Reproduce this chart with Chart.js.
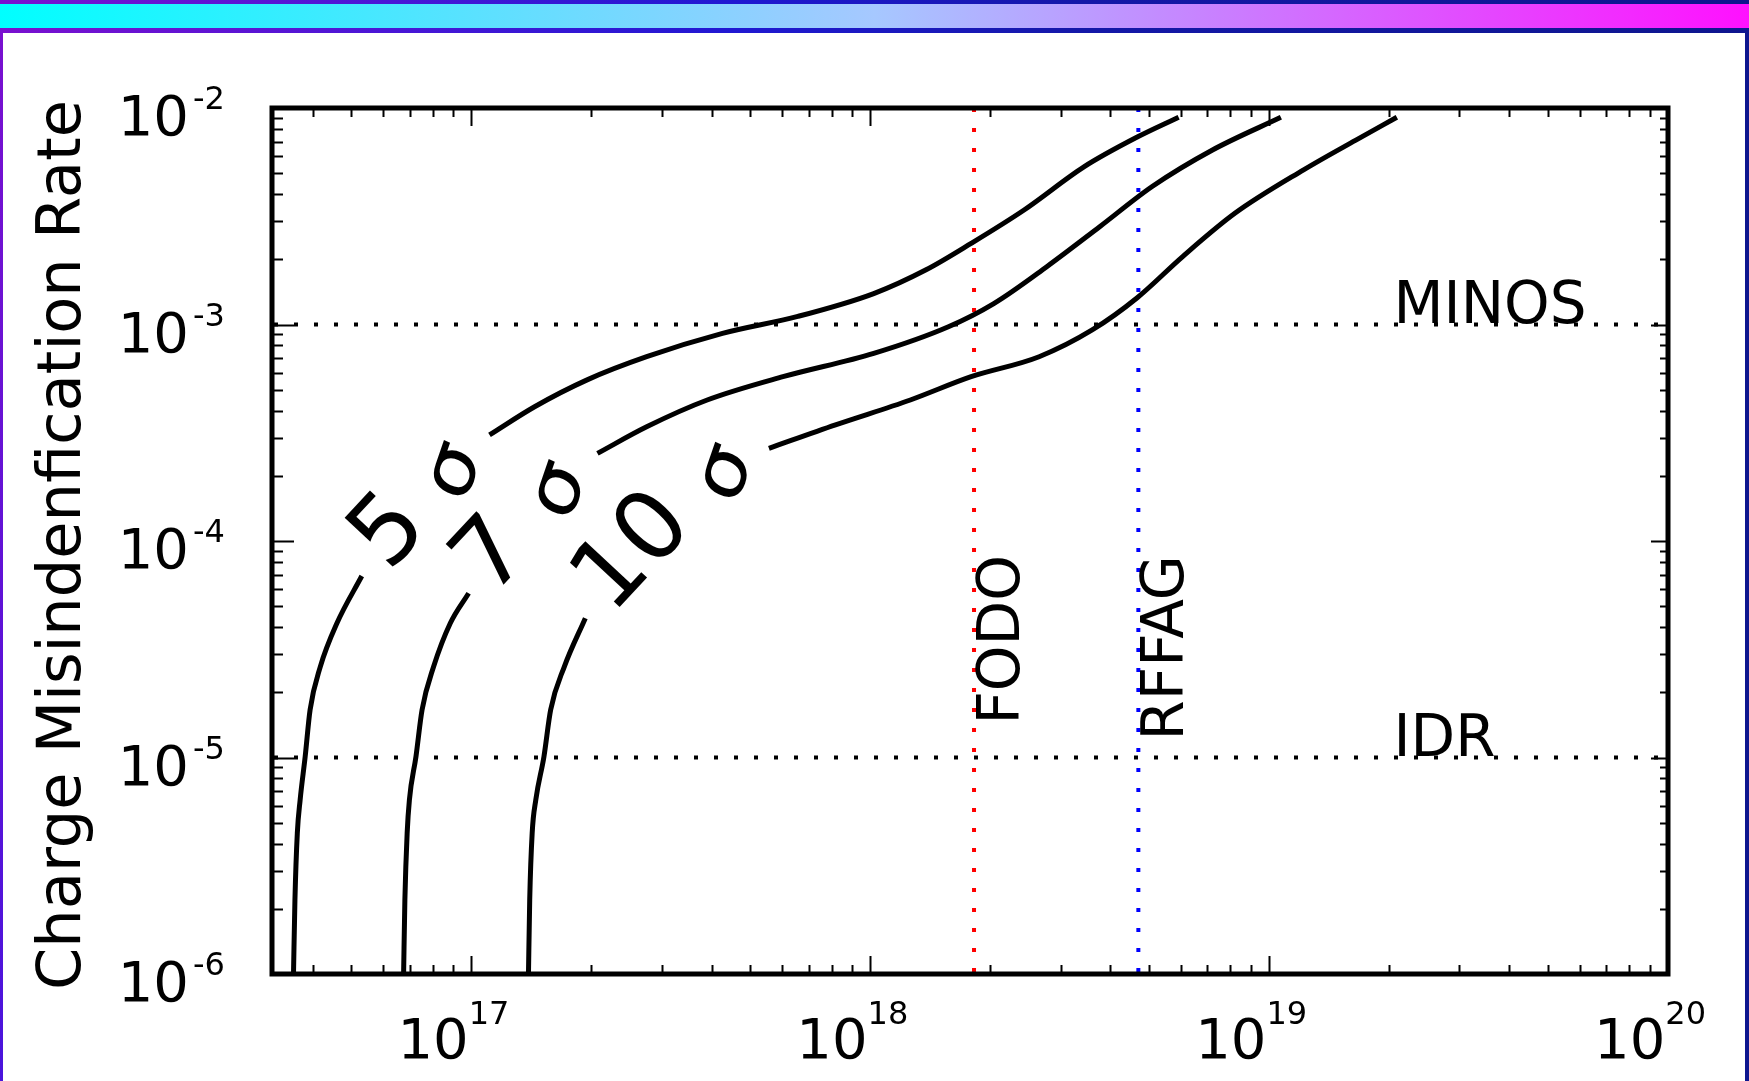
<!DOCTYPE html>
<html>
<head>
<meta charset="utf-8">
<title>Charge Misindenfication Rate</title>
<script src="https://cdn.jsdelivr.net/npm/chart.js@4.4.1/dist/chart.umd.min.js"></script>
<style>
    html, body { margin: 0; padding: 0; }
    body {
        width: 1749px; height: 1081px; overflow: hidden; position: relative;
        background: linear-gradient(to right, #7a10cf 0%, #4a16d6 22%, #2018d2 42%, #1418a8 62%, #0e168e 100%);
    }
    #leftEdge {
        position: absolute; left: 0; top: 0; width: 3px; height: 1081px;
        background: linear-gradient(to bottom, #7a10cf, #4a14dc);
    }
    #topBar {
        position: absolute; left: 0; top: 4px; width: 1749px; height: 24px;
        background: linear-gradient(to right, #00ffff 0%, #a6c8ff 50%, #ff10ff 100%);
    }
    #panel {
        position: absolute; left: 3px; top: 33px; width: 1742px; height: 1048px;
        background: #ffffff;
    }
    #chart { position: absolute; left: 0; top: 0; }
</style>
</head>
<body>
<div id="leftEdge"></div>
<div id="topBar"></div>
<div id="panel"></div>
<canvas id="chart" width="1749" height="1081"></canvas>

<script>
// ====== DATA ======
// axis ranges
const xMin = Math.pow(10, 16.5);
const xMax = 1e20;
const yMin = 1e-6;
const yMax = 1e-2;

// tick label exponents
const xExponents = [17, 18, 19, 20];
const yExponents = [-2, -3, -4, -5, -6];

// significance curves (null = break where the inline label sits)
const sigmaNames = ['5', '7', '10'];

const sigma5X = [3.58e16, 3.61e16, 3.66e16, 3.72e16, 3.83e16, 3.94e16, 4.18e16, 4.60e16, 5.31e16, null,
                 1.11e17, 1.44e17, 1.95e17, 2.75e17, 4.26e17, 6.58e17, 1.02e18, 1.38e18, 1.79e18, 2.43e18, 3.44e18, 4.67e18, 5.93e18];
const sigma5Y = [1.0e-6, 2.20e-6, 4.47e-6, 6.37e-6, 1.01e-5, 1.66e-5, 2.63e-5, 4.17e-5, 6.89e-5, null,
                 3.09e-4, 4.17e-4, 5.55e-4, 7.10e-4, 9.10e-4, 1.09e-3, 1.39e-3, 1.79e-3, 2.37e-3, 3.38e-3, 5.36e-3, 7.34e-3, 9.06e-3];

const sigma7X = [6.76e16, 6.81e16, 6.90e16, 6.99e16, 7.26e16, 7.52e16, 8.04e16, 8.85e16, 9.84e16, null,
                 2.07e17, 2.75e17, 3.90e17, 6.04e17, 1.02e18, 1.57e18, 2.04e18, 2.77e18, 3.76e18, 5.09e18, 7.21e18, 1.07e19];
const sigma7Y = [1.0e-6, 2.20e-6, 4.47e-6, 6.37e-6, 1.01e-5, 1.66e-5, 2.63e-5, 4.17e-5, 5.74e-5, null,
                 2.54e-4, 3.37e-4, 4.48e-4, 5.74e-4, 7.36e-4, 9.77e-4, 1.25e-3, 1.85e-3, 2.83e-3, 4.34e-3, 6.40e-3, 9.06e-3];

const sigma10X = [1.39e17, 1.40e17, 1.42e17, 1.45e17, 1.52e17, 1.58e17, 1.71e17, 1.93e17, null,
                  5.57e17, 8.18e17, 1.26e18, 1.79e18, 2.65e18, 3.60e18, 4.67e18, 6.07e18, 8.22e18, 1.22e19, 1.65e19, 2.09e19];
const sigma10Y = [1.0e-6, 2.20e-6, 4.47e-6, 6.37e-6, 1.01e-5, 1.66e-5, 2.63e-5, 4.40e-5, null,
                  2.68e-4, 3.44e-4, 4.48e-4, 5.74e-4, 7.10e-4, 9.44e-4, 1.33e-3, 2.06e-3, 3.27e-3, 5.18e-3, 7.11e-3, 9.06e-3];

// reference levels
const rateNames = ['MINOS', 'IDR'];
const rateValues = [1e-3, 1e-5];
const latticeNames = ['FODO', 'RFFAG'];
const latticeValues = [1.82e18, 4.7e18];
const latticeColors = ['#ff0000', '#0000ff'];

// ====== BUILD DATASETS ======
function toPoints(xs, ys) {
    return xs.map((v, i) => ({ x: v, y: ys[i] }));
}

const curveSets = [
    toPoints(sigma5X, sigma5Y),
    toPoints(sigma7X, sigma7Y),
    toPoints(sigma10X, sigma10Y)
].map((pts, i) => ({
    label: sigmaNames[i] + ' σ',
    data: pts,
    showLine: true,
    borderColor: '#000000',
    borderWidth: 5,
    pointRadius: 0,
    cubicInterpolationMode: 'monotone',
    spanGaps: false
}));

const rateSets = rateValues.map((v, i) => ({
    label: rateNames[i],
    data: [{ x: xMin, y: v }, { x: xMax, y: v }],
    showLine: true,
    borderColor: '#000000',
    borderWidth: 4,
    borderDash: [4, 16],
    borderDashOffset: -2,
    pointRadius: 0
}));

const latticeSets = latticeValues.map((v, i) => ({
    label: latticeNames[i],
    data: [{ x: v, y: yMax }, { x: v, y: yMin }],
    showLine: true,
    borderColor: latticeColors[i],
    borderWidth: 4,
    borderDash: [4, 16],
    pointRadius: 0
}));

// ====== DRAWING HELPERS ======
const FONT = '"DejaVu Sans", "Bitstream Vera Sans", sans-serif';

// squeeze < 1 narrows the rotated glyph horizontally on screen
function rotatedText(ctx, text, px, py, deg, size, squeeze) {
    ctx.save();
    ctx.translate(px, py);
    ctx.scale(squeeze || 1, 1);
    ctx.rotate(deg * Math.PI / 180);
    ctx.font = size + 'px ' + FONT;
    ctx.textAlign = 'center';
    ctx.textBaseline = 'middle';
    ctx.fillText(text, 0, 0);
    ctx.restore();
}

// inline contour labels: digits and sigma are placed in data units
const labelSpots = [
    { digit: [6.30e16, 1.08e-4], sigma: [9.12e16, 2.08e-4] },
    { digit: [1.14e17, 8.34e-5], sigma: [1.67e17, 1.70e-4] },
    { digit: [2.57e17, 8.71e-5], sigma: [4.37e17, 2.04e-4] }
];

const framePlugin = {
    id: 'frameAndText',
    afterDraw(chart) {
        const { ctx, chartArea: a, scales: { x, y } } = chart;
        ctx.save();
        ctx.fillStyle = '#000';
        ctx.strokeStyle = '#000';

        // ticks, inward on all four sides
        ctx.lineWidth = 2;
        ctx.beginPath();
        for (let e = 16; e <= 20; e++) {
            for (let m = 1; m <= 9; m++) {
                const v = m * Math.pow(10, e);
                if (v < xMin || v > xMax) continue;
                const px = Math.round(x.getPixelForValue(v)) + 0.5;
                const len = m === 1 ? 18 : 9;
                ctx.moveTo(px, a.bottom); ctx.lineTo(px, a.bottom - len);
                ctx.moveTo(px, a.top); ctx.lineTo(px, a.top + len);
            }
        }
        for (let e = -6; e <= -2; e++) {
            for (let m = 1; m <= 9; m++) {
                const v = m * Math.pow(10, e);
                if (v < yMin * 0.999 || v > yMax * 1.001) continue;
                const py = Math.round(y.getPixelForValue(v)) + 0.5;
                ctx.moveTo(a.left, py); ctx.lineTo(a.left + (m === 1 ? 22 : 11), py);
                ctx.moveTo(a.right, py); ctx.lineTo(a.right - (m === 1 ? 17 : 8), py);
            }
        }
        ctx.stroke();

        // frame
        ctx.lineWidth = 5;
        ctx.strokeRect(a.left, a.top, a.right - a.left, a.bottom - a.top);

        // x tick labels
        ctx.textBaseline = 'alphabetic';
        xExponents.forEach(exp => {
            const px = x.getPixelForValue(Math.pow(10, exp));
            ctx.font = '56px ' + FONT;
            const wBase = ctx.measureText('10').width;
            ctx.font = '32px ' + FONT;
            const wSup = ctx.measureText(String(exp)).width;
            const left = px - 18 - (wBase + wSup) / 2;
            ctx.textAlign = 'left';
            ctx.font = '56px ' + FONT;
            ctx.fillText('10', left, a.bottom + 84);
            ctx.font = '32px ' + FONT;
            ctx.fillText(String(exp), left + wBase, a.bottom + 50);
        });

        // y tick labels
        yExponents.forEach(exp => {
            const py = y.getPixelForValue(Math.pow(10, exp));
            ctx.font = '56px ' + FONT;
            ctx.textAlign = 'right';
            ctx.fillText('10', 189, py + 27);
            ctx.font = '32px ' + FONT;
            ctx.textAlign = 'left';
            ctx.fillText(String(exp), 193, py + 1);
        });

        // y axis title
        ctx.save();
        ctx.translate(80, (a.top + a.bottom) / 2 + 4);
        ctx.rotate(-Math.PI / 2);
        ctx.font = '60px ' + FONT;
        ctx.textAlign = 'center';
        const title = 'Charge Misindenfication Rate';
        const tw = ctx.measureText(title).width;
        ctx.scale(890 / tw, 1);
        ctx.fillText(title, 0, 0);
        ctx.restore();

        // horizontal level names
        ctx.font = '58px ' + FONT;
        ctx.textAlign = 'left';
        rateValues.forEach((v, i) => {
            ctx.fillText(rateNames[i], x.getPixelForValue(2.05e19), y.getPixelForValue(v) - 2);
        });

        // vertical lattice names
        latticeValues.forEach((v, i) => {
            ctx.save();
            ctx.translate(x.getPixelForValue(v) + 45, y.getPixelForValue(8.6e-5));
            ctx.rotate(-Math.PI / 2);
            ctx.font = '58px ' + FONT;
            ctx.textAlign = 'right';
            ctx.fillText(latticeNames[i], 0, 0);
            ctx.restore();
        });

        // inline curve labels
        labelSpots.forEach((s, i) => {
            rotatedText(ctx, sigmaNames[i], x.getPixelForValue(s.digit[0]), y.getPixelForValue(s.digit[1]), -47, 96);
            rotatedText(ctx, 'σ', x.getPixelForValue(s.sigma[0]), y.getPixelForValue(s.sigma[1]), -68, 86, 0.85);
        });

        ctx.restore();
    }
};

// ====== CHART ======
document.addEventListener('DOMContentLoaded', () => {
    const ctx = document.getElementById('chart').getContext('2d');
    new Chart(ctx, {
        type: 'scatter',
        data: { datasets: [...curveSets, ...rateSets, ...latticeSets] },
        options: {
            responsive: false,
            devicePixelRatio: 1,
            animation: false,
            layout: { padding: { left: 272, right: 81, top: 108, bottom: 107 } },
            plugins: { legend: { display: false }, tooltip: { enabled: false } },
            scales: {
                x: { type: 'logarithmic', min: xMin, max: xMax, display: false },
                y: { type: 'logarithmic', min: yMin, max: yMax, display: false }
            }
        },
        plugins: [framePlugin]
    });
});
</script>
</body>
</html>
